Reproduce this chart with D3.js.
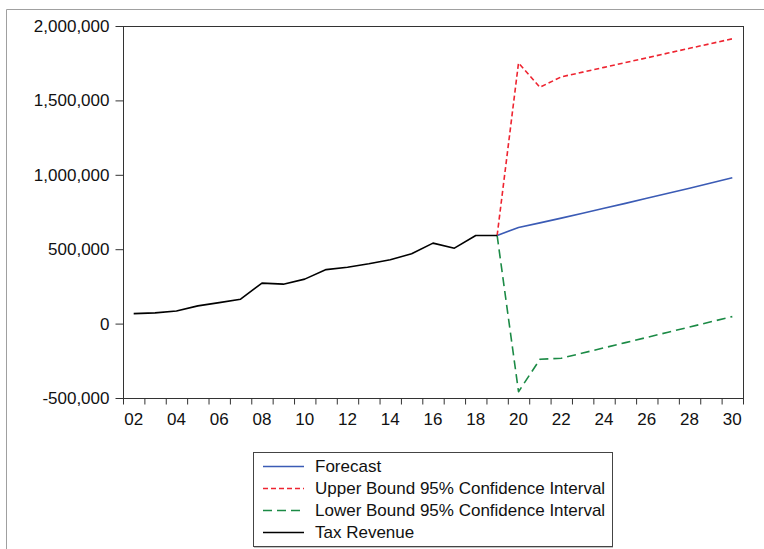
<!DOCTYPE html>
<html>
<head>
<meta charset="utf-8">
<script src="https://cdn.jsdelivr.net/npm/d3@7"></script>
<style>
  html, body { margin: 0; padding: 0; background: #fff; }
  svg { display: block; font-family: "Liberation Sans", Arial, sans-serif; }
</style>
</head>
<body>
<svg id="chart" width="764" height="549"></svg>
<script>
// Annual tax revenue (actual) and the forecast with its 95% interval
const actualYears = d3.range(2002, 2020);
const taxRevenue = [67000, 72000, 85000, 119000, 141000, 164000, 272000, 265000, 299000,
                    363000, 379000, 402000, 429000, 469000, 541000, 507000, 592000, 592000];

const forecastYears = d3.range(2019, 2031);
const forecast = [592000, 646000, 677000, 709000, 741000, 775000, 808000, 842000, 876000, 910000, 945000, 980000];
const upperBound = [592000, 1752000, 1588000, 1658000, 1690000, 1722000, 1754000, 1786000, 1818000, 1850000, 1882000, 1914000];
const lowerBound = [592000, -458000, -240000, -233000, -198000, -163000, -128000, -93000, -58000, -23000, 12000, 47000];

const yTicks = [-500000, 0, 500000, 1000000, 1500000, 2000000];
const xLabelYears = d3.range(2002, 2031, 2);

const series = [
  { name: "Forecast", years: forecastYears, values: forecast, color: "#3b5bb5", dash: null },
  { name: "Upper Bound 95% Confidence Interval", years: forecastYears, values: upperBound, color: "#ee2430", dash: "5,3" },
  { name: "Lower Bound 95% Confidence Interval", years: forecastYears, values: lowerBound, color: "#1b8a45", dash: "9,5" },
  { name: "Tax Revenue", years: actualYears, values: taxRevenue, color: "#000000", dash: null }
];

const svg = d3.select("#chart");
const plot = { left: 123, right: 743, top: 26, bottom: 398 };

// Outer frame lines (top and left edges)
svg.append("line").attr("x1", 6.5).attr("x2", 764).attr("y1", 9.5).attr("y2", 9.5)
  .attr("stroke", "#a0a0a0").attr("stroke-width", 1);
svg.append("line").attr("x1", 6.5).attr("x2", 6.5).attr("y1", 9.5).attr("y2", 549)
  .attr("stroke", "#a0a0a0").attr("stroke-width", 1);

// Each year occupies one period band; points sit at band centres
const x = d3.scaleLinear().domain([2001.5, 2030.5]).range([plot.left, plot.right]);
const y = d3.scaleLinear().domain([-500000, 2000000]).range([plot.bottom, plot.top]);

// Plot frame
svg.append("rect")
  .attr("x", plot.left + 0.5).attr("y", plot.top + 0.5)
  .attr("width", plot.right - plot.left).attr("height", plot.bottom - plot.top)
  .attr("fill", "none").attr("stroke", "#333").attr("stroke-width", 1);

// Y axis (plain hyphen for negatives)
const commaFmt = d3.format(",");
const yAxis = d3.axisLeft(y).tickValues(yTicks).tickSize(8).tickPadding(6)
  .tickFormat(d => commaFmt(d).replace("\u2212", "-"));
const gy = svg.append("g").attr("transform", `translate(${plot.left + 0.5},0)`).call(yAxis);
gy.select(".domain").remove();
gy.selectAll(".tick line").attr("stroke", "#333");
gy.selectAll(".tick text").attr("font-size", 17).attr("fill", "#111")
  .attr("font-family", "Liberation Sans, Arial, sans-serif");

// X axis: ticks at period boundaries, labels on even years
const xAxis = d3.axisBottom(x).tickValues(d3.range(2001.5, 2031.5, 1)).tickSize(6).tickFormat("");
const gx = svg.append("g").attr("transform", `translate(0,${plot.bottom + 0.5})`).call(xAxis);
gx.select(".domain").remove();
gx.selectAll(".tick line").attr("stroke", "#333");

svg.append("g").selectAll("text")
  .data(xLabelYears)
  .join("text")
  .attr("x", d => x(d))
  .attr("y", 424.5)
  .attr("text-anchor", "middle")
  .attr("font-size", 17)
  .attr("fill", "#111")
  .text(d => String(d % 100).padStart(2, "0"));

// Series lines
const line = d3.line().x(d => x(d[0])).y(d => y(d[1]));
series.forEach(s => {
  svg.append("path")
    .datum(s.years.map((yr, i) => [yr, s.values[i]]))
    .attr("d", line)
    .attr("fill", "none")
    .attr("stroke", s.color)
    .attr("stroke-width", 1.6)
    .attr("stroke-dasharray", s.dash)
    .attr("stroke-linejoin", "round");
});

// Legend
const legend = { x: 253, y: 452, w: 359, h: 94 };
svg.append("rect")
  .attr("x", legend.x + 1).attr("y", legend.y + 1.5)
  .attr("width", legend.w).attr("height", legend.h)
  .attr("fill", "#888");
svg.append("rect")
  .attr("x", legend.x + 0.5).attr("y", legend.y + 0.5)
  .attr("width", legend.w).attr("height", legend.h)
  .attr("fill", "#fff").attr("stroke", "#444").attr("stroke-width", 1);

const rows = svg.append("g").selectAll("g")
  .data(series)
  .join("g")
  .attr("transform", (d, i) => `translate(0,${466 + i * 22})`);
rows.append("line")
  .attr("x1", 263).attr("x2", 304).attr("y1", 0.5).attr("y2", 0.5)
  .attr("stroke", d => d.color).attr("stroke-width", 1.6)
  .attr("stroke-dasharray", d => d.dash);
rows.append("text")
  .attr("x", 315).attr("y", 6)
  .attr("font-size", 17).attr("fill", "#111")
  .text(d => d.name);
</script>
</body>
</html>
